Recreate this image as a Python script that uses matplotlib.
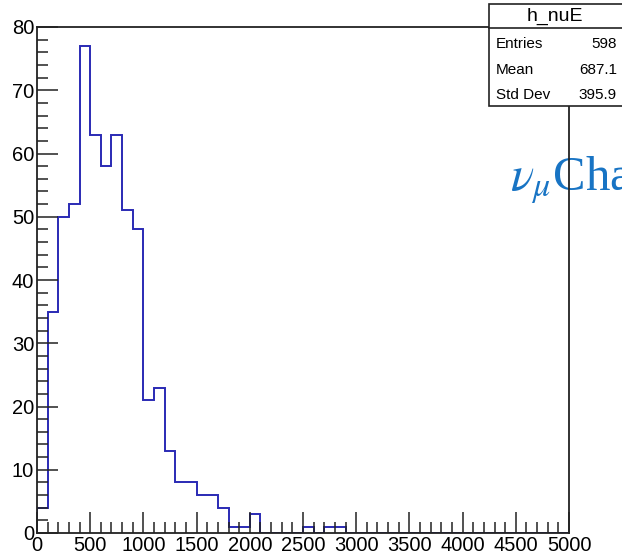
import numpy as np
import matplotlib
matplotlib.use("Agg")
import matplotlib.pyplot as plt
from matplotlib.patches import Rectangle
from matplotlib.ticker import MultipleLocator

# h_nuE histogram, 100-wide bins from 0 to 5000
bin_edges = np.arange(0, 5001, 100)
counts = [4, 35, 50, 52, 77, 63, 58, 63, 51, 48,
          21, 23, 13, 8, 8, 6, 6, 4, 1, 1,
          3, 0, 0, 0, 0, 1, 0, 1, 1, 0] + [0] * 20

stats_name = "h_nuE"
stats_rows = [("Entries", "598"), ("Mean", "687.1"), ("Std Dev", "395.9")]

plt.rcParams['font.family'] = ['Liberation Sans', 'DejaVu Sans']

fig = plt.figure(figsize=(6.22, 5.6), dpi=100)
ax = fig.add_axes([37/622, 1 - 533/560, 532/622, 506/560])
ax.patch.set_facecolor('none')

ax.stairs(counts, bin_edges, color='#2a2ab4', linewidth=1.4)

ax.set_xlim(0, 5000)
ax.set_ylim(0, 80)
ax.xaxis.set_major_locator(MultipleLocator(500))
ax.xaxis.set_minor_locator(MultipleLocator(100))
ax.yaxis.set_major_locator(MultipleLocator(10))
ax.yaxis.set_minor_locator(MultipleLocator(2))
ax.tick_params(which='both', direction='in', top=False, right=False,
               labelsize=14.5, width=1.1, color='#222222')
ax.tick_params(which='major', length=15, pad=2)
ax.tick_params(which='minor', length=8)
for s in ax.spines.values():
    s.set_linewidth(1.3)
    s.set_color('#222222')

# stats box (ROOT style), cut at the right edge
fig.patches.append(Rectangle((489/622, 1 - 106/560), 0.3, 102/560,
                             transform=fig.transFigure, facecolor='white',
                             edgecolor='#222222', linewidth=1.2, zorder=5))
fig.lines.append(plt.Line2D([489/622, 1.0], [1 - 28/560, 1 - 28/560],
                            transform=fig.transFigure, color='#222222',
                            linewidth=1.2, zorder=6))
fig.text(555/622, 1 - 16/560, stats_name, ha='center', va='center',
         fontsize=14, zorder=7)
for i, (lab, val) in enumerate(stats_rows):
    y = 1 - (44 + 25.5 * i) / 560
    fig.text(496/622, y, lab, ha='left', va='center', fontsize=11, zorder=7)
    fig.text(617/622, y, val, ha='right', va='center', fontsize=11, zorder=7)

# overlaid slide text, partly off the picture, behind the frame
fig.text(510/622, 1 - 190/560, r'$\nu_{\mu}$Cha', color='#1874c4',
         fontsize=35, family='Liberation Serif', math_fontfamily='stix',
         ha='left', va='baseline', zorder=-1)

fig.savefig("out.png", dpi=100)
